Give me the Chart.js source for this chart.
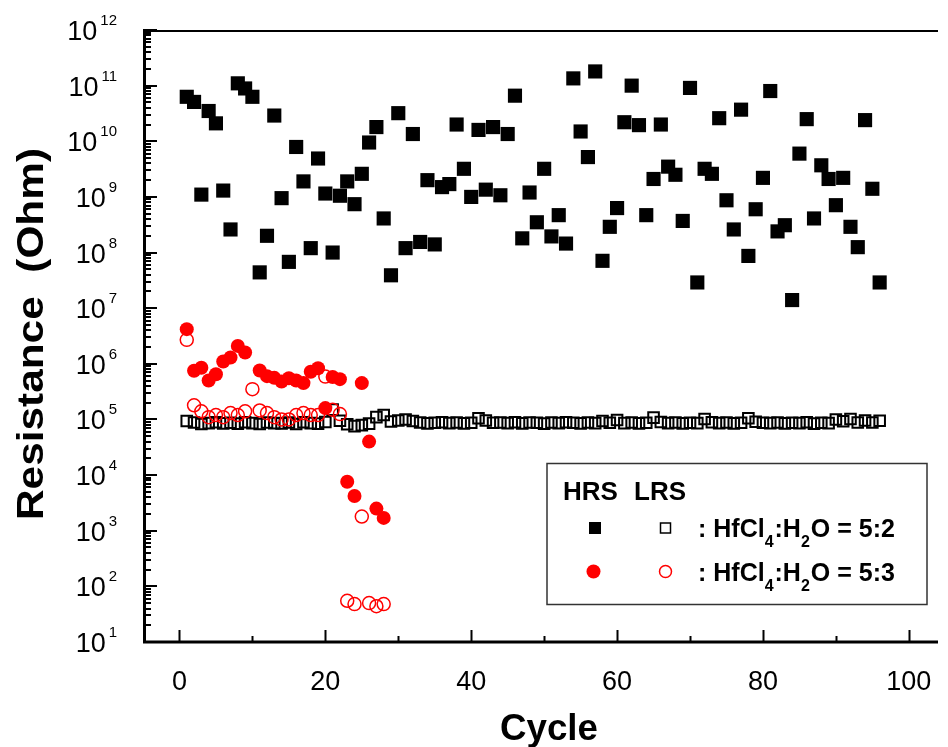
<!DOCTYPE html>
<html>
<head>
  <title>Resistance vs Cycle</title>
  <script src="https://cdn.jsdelivr.net/npm/chart.js"></script>
  <style>
    body { margin: 0; background: #fff; }
  </style>
</head>
<body>
  <canvas id="myChart" width="948" height="747"></canvas>
  <script>
    // cycle numbers
    const cycles52 = [1,2,3,4,5,6,7,8,9,10,11,12,13,14,15,16,17,18,19,20,21,22,23,24,25,26,27,28,29,30,
      31,32,33,34,35,36,37,38,39,40,41,42,43,44,45,46,47,48,49,50,51,52,53,54,55,56,57,58,59,60,
      61,62,63,64,65,66,67,68,69,70,71,72,73,74,75,76,77,78,79,80,81,82,83,84,85,86,87,88,89,90,
      91,92,93,94,95,96];
    const cycles53 = [1,2,3,4,5,6,7,8,9,10,11,12,13,14,15,16,17,18,19,20,21,22,23,24,25,26,27,28];

    // HfCl4:H2O = 5:2, high resistance state (Ohm)
    const hrs52 = [6.3e10,5.1e10,1.1e9,3.5e10,2.1e10,1.3e9,2.6e8,1.1e11,8.9e10,6.3e10,
      4.4e7,2.0e8,2.9e10,9.5e8,6.8e7,7.9e9,1.9e9,1.2e8,4.9e9,1.15e9,
      1.0e8,1.05e9,1.9e9,7.4e8,2.6e9,9.5e9,1.8e10,4.1e8,3.9e7,3.2e10,
      1.2e8,1.35e10,1.55e8,2.0e9,1.4e8,1.5e9,1.7e9,2.0e10,3.2e9,1.0e9,
      1.6e10,1.35e9,1.8e10,1.07e9,1.35e10,6.6e10,1.8e8,1.2e9,3.5e8,3.2e9,
      1.95e8,4.7e8,1.45e8,1.35e11,1.5e10,5.2e9,1.8e11,7.1e7,2.9e8,6.3e8,
      2.2e10,1.0e11,1.95e10,4.7e8,2.1e9,2.0e10,3.5e9,2.5e9,3.7e8,9.1e10,
      2.9e7,3.2e9,2.6e9,2.6e10,8.7e8,2.6e8,3.7e10,8.7e7,6.0e8,2.2e9,
      8.0e10,2.4e8,3.1e8,1.4e7,6.0e9,2.5e10,4.1e8,3.7e9,2.1e9,7.1e8,
      2.2e9,2.9e8,1.25e8,2.4e10,1.4e9,2.9e7];
    // HfCl4:H2O = 5:2, low resistance state (Ohm)
    const lrs52 = [9.4e4,8.8e4,8.3e4,8.6e4,8.9e4,8.5e4,8.7e4,8.4e4,8.9e4,8.6e4,
      8.3e4,8.8e4,8.6e4,8.5e4,8.8e4,8.3e4,8.9e4,8.6e4,8.4e4,9.0e4,
      1.5e5,9.5e4,8.2e4,7.6e4,7.9e4,8.4e4,1.1e5,1.2e5,9.2e4,9.6e4,
      1.0e5,9.4e4,8.8e4,8.5e4,8.7e4,8.9e4,8.6e4,8.8e4,8.5e4,8.7e4,
      1.05e5,9.6e4,8.7e4,8.8e4,8.6e4,8.9e4,8.5e4,8.8e4,8.7e4,8.4e4,
      8.8e4,8.6e4,8.9e4,8.7e4,8.5e4,8.8e4,8.6e4,9.4e4,8.7e4,9.8e4,
      8.6e4,8.8e4,8.5e4,8.7e4,1.08e5,9.0e4,8.6e4,8.8e4,8.5e4,8.7e4,
      8.6e4,1.02e5,8.9e4,8.6e4,8.8e4,8.5e4,8.7e4,1.05e5,9.1e4,8.7e4,
      8.6e4,8.8e4,8.5e4,8.7e4,8.6e4,8.9e4,8.4e4,8.7e4,8.6e4,1.0e5,
      9.3e4,1.02e5,8.8e4,9.6e4,8.8e4,9.5e4];
    // HfCl4:H2O = 5:3
    const hrs53 = [4.2e6,7.5e5,8.5e5,5.0e5,6.5e5,1.1e6,1.3e6,2.1e6,1.6e6,null,
      7.6e5,6.0e5,5.6e5,4.8e5,5.5e5,5.0e5,4.5e5,7.2e5,8.3e5,1.6e5,
      5.8e5,5.3e5,7.6e3,4.2e3,4.5e5,4.0e4,2.5e3,1.7e3];
    const lrs53 = [2.7e6,1.8e5,1.4e5,1.1e5,1.2e5,1.1e5,1.3e5,1.2e5,1.4e5,3.5e5,
      1.45e5,1.3e5,1.1e5,1.0e5,1.0e5,1.2e5,1.3e5,1.2e5,1.2e5,5.9e5,
      1.5e5,1.25e5,55,48,1.8e3,50,44,48];

    const xTicks = [0, 20, 40, 60, 80, 100];
    const yExponents = [1,2,3,4,5,6,7,8,9,10,11,12];

    function pts(xs, ys) {
      return xs.map((x, i) => ({ x: x, y: ys[i] }));
    }

    const FONT = '"Liberation Sans", Arial, sans-serif';

    // draw a text squeezed/stretched to a given width
    function fitText(ctx, text, x, y, w) {
      const m = ctx.measureText(text).width;
      ctx.save();
      ctx.translate(x, y);
      ctx.scale(w / m, 1);
      ctx.fillText(text, 0, 0);
      ctx.restore();
    }

    const axisPlugin = {
      id: 'axisPlugin',
      afterDatasetsDraw(chart) {
        const ctx = chart.ctx;
        const xs = chart.scales.x, ys = chart.scales.y;
        const a = chart.chartArea;
        ctx.save();
        ctx.strokeStyle = '#000';
        ctx.lineCap = 'butt';

        // frame
        ctx.lineWidth = 2;
        ctx.beginPath();
        ctx.moveTo(a.left, a.top + 1);
        ctx.lineTo(a.right, a.top + 1);
        ctx.stroke();
        ctx.lineWidth = 3;
        ctx.beginPath();
        ctx.moveTo(a.left + 1.5, a.top);
        ctx.lineTo(a.left + 1.5, a.bottom + 1.5);
        ctx.moveTo(a.left, a.bottom);
        ctx.lineTo(a.right, a.bottom);
        ctx.stroke();

        // y ticks, inward
        ctx.lineWidth = 2;
        ctx.beginPath();
        yExponents.forEach(e => {
          const y = Math.round(ys.getPixelForValue(Math.pow(10, e))) + 0.0;
          ctx.moveTo(a.left, y);
          ctx.lineTo(a.left + 14, y);
          if (e < 12) {
            for (let m = 2; m <= 9; m++) {
              const ym = Math.round(ys.getPixelForValue(m * Math.pow(10, e)));
              ctx.moveTo(a.left, ym);
              ctx.lineTo(a.left + 8, ym);
            }
          }
        });
        // x ticks, inward
        xTicks.forEach(v => {
          const x = Math.round(xs.getPixelForValue(v)) + 0.5;
          ctx.moveTo(x, a.bottom);
          ctx.lineTo(x, a.bottom - 12);
          if (v < 100) {
            const xm = Math.round(xs.getPixelForValue(v + 10)) + 0.5;
            ctx.moveTo(xm, a.bottom);
            ctx.lineTo(xm, a.bottom - 6);
          }
        });
        ctx.stroke();
        ctx.restore();
      },
      afterDraw(chart) {
        const ctx = chart.ctx;
        const xs = chart.scales.x, ys = chart.scales.y;
        const a = chart.chartArea;
        ctx.save();
        ctx.fillStyle = '#000';

        // y tick labels 10^n
        yExponents.forEach(e => {
          const y = ys.getPixelForValue(Math.pow(10, e));
          ctx.font = '15px ' + FONT;
          ctx.textAlign = 'right';
          ctx.textBaseline = 'alphabetic';
          const ew = ctx.measureText(String(e)).width;
          ctx.fillText(String(e), 117, y - 5);
          ctx.font = '27px ' + FONT;
          ctx.fillText('10', 117 - ew - 3, y + 10);
        });

        // x tick labels
        ctx.font = '27px ' + FONT;
        ctx.textAlign = 'center';
        ctx.textBaseline = 'alphabetic';
        xTicks.forEach(v => {
          ctx.fillText(String(v), xs.getPixelForValue(v), 690);
        });

        // axis titles
        ctx.font = 'bold 37px ' + FONT;
        ctx.textAlign = 'left';
        fitText(ctx, 'Cycle', 500, 740, 98);
        ctx.save();
        ctx.translate(43, 520);
        ctx.rotate(-Math.PI / 2);
        fitText(ctx, 'Resistance  (Ohm)', 0, 0, 372);
        ctx.restore();

        // legend box
        ctx.strokeStyle = '#333';
        ctx.lineWidth = 1.5;
        ctx.strokeRect(547, 463.5, 380, 141);
        ctx.font = 'bold 26px ' + FONT;
        ctx.fillText('HRS', 563, 500);
        ctx.fillText('LRS', 634, 500);

        // legend symbols
        ctx.fillStyle = '#000';
        ctx.fillRect(589, 522, 12, 12);
        ctx.strokeStyle = '#000';
        ctx.lineWidth = 1.5;
        ctx.strokeRect(660.5, 523, 10, 10);
        ctx.fillStyle = '#ff0000';
        ctx.beginPath();
        ctx.arc(593.5, 571.5, 7, 0, Math.PI * 2);
        ctx.fill();
        ctx.strokeStyle = '#ff0000';
        ctx.beginPath();
        ctx.arc(665.5, 571.5, 6, 0, Math.PI * 2);
        ctx.stroke();

        // legend texts with subscripts
        ctx.fillStyle = '#000';
        [['2', 537], ['3', 581]].forEach(([r, base]) => {
          let x = 698;
          const parts = [[': HfCl', 0], ['4', 1], [':H', 0], ['2', 1], ['O = 5:' + r, 0]];
          parts.forEach(([t, sub]) => {
            ctx.font = sub ? 'bold 16px ' + FONT : 'bold 25px ' + FONT;
            ctx.fillText(t, x, sub ? base + 10 : base);
            x += ctx.measureText(t).width + (sub ? 1 : 0);
          });
        });
        ctx.restore();
      }
    };

    const ctx = document.getElementById('myChart').getContext('2d');
    const myChart = new Chart(ctx, {
      type: 'scatter',
      data: {
        datasets: [
          {
            label: 'HRS 5:3',
            data: pts(cycles53, hrs53),
            pointStyle: 'circle',
            pointRadius: 7,
            backgroundColor: '#ff0000',
            borderColor: '#ff0000',
            borderWidth: 0,
            order: 1
          },
          {
            label: 'LRS 5:3',
            data: pts(cycles53, lrs53),
            pointStyle: 'circle',
            pointRadius: 6.5,
            backgroundColor: 'rgba(255,255,255,0)',
            borderColor: '#ff0000',
            borderWidth: 1.5,
            order: 2
          },
          {
            label: 'LRS 5:2',
            data: pts(cycles52, lrs52),
            pointStyle: 'rect',
            pointRadius: 7.5,
            backgroundColor: 'rgba(255,255,255,0)',
            borderColor: '#000',
            borderWidth: 2,
            order: 3
          },
          {
            label: 'HRS 5:2',
            data: pts(cycles52, hrs52),
            pointStyle: 'rect',
            pointRadius: 10,
            backgroundColor: '#000',
            borderColor: '#000',
            borderWidth: 0,
            order: 4
          }
        ]
      },
      options: {
        responsive: false,
        animation: false,
        layout: { padding: { left: 143, top: 30, right: 0, bottom: 105 } },
        plugins: {
          legend: { display: false },
          tooltip: { enabled: false }
        },
        scales: {
          x: {
            type: 'linear',
            display: false,
            min: -5,
            max: 104
          },
          y: {
            type: 'logarithmic',
            display: false,
            min: 10,
            max: 1e12
          }
        }
      },
      plugins: [axisPlugin]
    });
  </script>
</body>
</html>
